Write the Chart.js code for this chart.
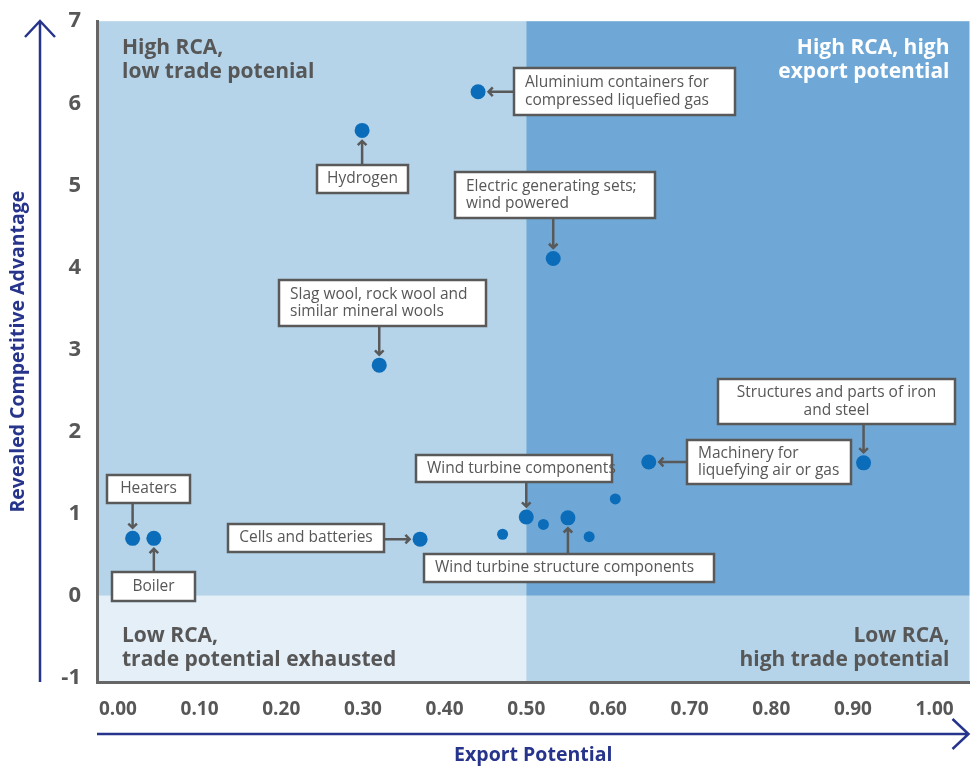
<!DOCTYPE html>
<html>
<head>
<meta charset="utf-8">
<script src="https://cdn.jsdelivr.net/npm/chart.js@4.4.1/dist/chart.umd.min.js"></script>
<style>
  html, body { margin: 0; padding: 0; background: #fff; }
</style>
</head>
<body>
<canvas id="rca-chart" width="977" height="767"></canvas>
<script>
// products (null = unlabelled product)
const products = [
  'Heaters',
  'Boiler',
  'Cells and batteries',
  'Hydrogen',
  'Slag wool, rock wool and\nsimilar mineral wools',
  'Aluminium containers for\ncompressed liquefied gas',
  'Electric generating sets;\nwind powered',
  'Wind turbine components',
  'Wind turbine structure components',
  'Machinery for\nliquefying air or gas',
  'Structures and parts of iron\nand steel',
  null, null, null, null
];
const exportPotential = [0.018, 0.044, 0.370, 0.299, 0.320, 0.441, 0.533, 0.500, 0.551, 0.650, 0.913, 0.471, 0.521, 0.577, 0.609];
const rca = [0.70, 0.70, 0.69, 5.67, 2.81, 6.14, 4.11, 0.96, 0.95, 1.63, 1.62, 0.75, 0.87, 0.72, 1.18];

const xTicks = [0, 0.1, 0.2, 0.3, 0.4, 0.5, 0.6, 0.7, 0.8, 0.9, 1.0];
const yTicks = [-1, 0, 1, 2, 3, 4, 5, 6, 7];

const quadrantLabels = {
  tl: ['High RCA,', 'low trade potenial'],
  tr: ['High RCA, high', 'export potential'],
  bl: ['Low RCA,', 'trade potential exhausted'],
  br: ['Low RCA,', 'high trade potential']
};

const FONT = '"Open Sans", sans-serif';
const GREY = '#575757';
const NAVY = '#27348b';

// call-out boxes: [left, top, width, height] in pixels, arrow direction, text align
const notes = {
  0: { box: [107, 475, 83, 28], dir: 'down', align: 'center' },
  1: { box: [112, 572, 83, 29], dir: 'up', align: 'center' },
  2: { box: [228, 524, 156, 28], dir: 'right', align: 'center' },
  3: { box: [317, 165, 91, 28], dir: 'up', align: 'center' },
  4: { box: [279, 280, 207, 46], dir: 'down', align: 'left' },
  5: { box: [514, 68, 221, 47], dir: 'left', align: 'left' },
  6: { box: [455, 172, 200, 46], dir: 'down', align: 'left' },
  7: { box: [416, 455, 196, 27], dir: 'down', align: 'left' },
  8: { box: [424, 554, 290, 28], dir: 'up', align: 'left' },
  9: { box: [687, 440, 164, 44], dir: 'left', align: 'left' },
  10: { box: [718, 379, 237, 45], dir: 'down', align: 'center' }
};

const radiusOf = (i) => products[i] ? 7.5 : 5.5;

function drawArrow(ctx, x1, y1, x2, y2) {
  const ang = Math.atan2(y2 - y1, x2 - x1);
  const h = 6;
  ctx.beginPath();
  ctx.moveTo(x1, y1);
  ctx.lineTo(x2, y2);
  ctx.moveTo(x2 - h * Math.cos(ang - 0.8), y2 - h * Math.sin(ang - 0.8));
  ctx.lineTo(x2, y2);
  ctx.lineTo(x2 - h * Math.cos(ang + 0.8), y2 - h * Math.sin(ang + 0.8));
  ctx.stroke();
}

const quadrants = {
  id: 'quadrants',
  beforeDraw(chart) {
    const { ctx, chartArea: a, scales: { x, y } } = chart;
    const mx = x.getPixelForValue(0.5);
    const my = y.getPixelForValue(0);
    ctx.save();
    ctx.fillStyle = '#b5d4e9';
    ctx.fillRect(a.left, a.top, mx - a.left, my - a.top);
    ctx.fillStyle = '#6fa8d6';
    ctx.fillRect(mx, a.top, a.right - mx, my - a.top);
    ctx.fillStyle = '#e4eff8';
    ctx.fillRect(a.left, my, mx - a.left, a.bottom - my);
    ctx.fillStyle = '#b5d4e9';
    ctx.fillRect(mx, my, a.right - mx, a.bottom - my);

    ctx.font = 'bold 21px ' + FONT;
    ctx.textBaseline = 'middle';
    ctx.fillStyle = GREY;
    ctx.textAlign = 'left';
    quadrantLabels.tl.forEach((t, k) => ctx.fillText(t, a.left + 25, a.top + 27 + k * 24));
    quadrantLabels.bl.forEach((t, k) => ctx.fillText(t, a.left + 25, my + 40 + k * 24));
    ctx.textAlign = 'right';
    quadrantLabels.br.forEach((t, k) => ctx.fillText(t, a.right - 20, my + 40 + k * 24));
    ctx.fillStyle = '#ffffff';
    quadrantLabels.tr.forEach((t, k) => ctx.fillText(t, a.right - 20, a.top + 27 + k * 24));
    ctx.restore();
  }
};

const callouts = {
  id: 'callouts',
  afterDatasetsDraw(chart) {
    const { ctx } = chart;
    const meta = chart.getDatasetMeta(0);
    ctx.save();
    ctx.lineWidth = 2.5;
    ctx.strokeStyle = '#595959';
    ctx.font = '15.5px ' + FONT;
    ctx.textBaseline = 'middle';
    Object.keys(notes).forEach((key) => {
      const i = +key;
      const n = notes[i];
      const pt = meta.data[i];
      const r = radiusOf(i) + 3;
      const [bx, by, bw, bh] = n.box;
      if (n.dir === 'down') drawArrow(ctx, pt.x, by + bh, pt.x, pt.y - r);
      if (n.dir === 'up') drawArrow(ctx, pt.x, by, pt.x, pt.y + r);
      if (n.dir === 'left') drawArrow(ctx, bx, pt.y, pt.x + r, pt.y);
      if (n.dir === 'right') drawArrow(ctx, bx + bw, pt.y, pt.x - r, pt.y);

      ctx.fillStyle = '#ffffff';
      ctx.fillRect(bx, by, bw, bh);
      ctx.strokeRect(bx, by, bw, bh);

      const lines = products[i].split('\n');
      const lh = 17.5;
      const y0 = by + bh / 2 - (lines.length - 1) * lh / 2;
      ctx.fillStyle = GREY;
      ctx.textAlign = n.align;
      const tx = n.align === 'center' ? bx + bw / 2 : bx + 11;
      lines.forEach((t, k) => ctx.fillText(t, tx, y0 + k * lh));
    });
    ctx.restore();
  }
};

const axisArrows = {
  id: 'axisArrows',
  afterDraw(chart) {
    const { ctx, chartArea: a } = chart;
    ctx.save();
    ctx.strokeStyle = NAVY;
    ctx.fillStyle = NAVY;
    ctx.lineWidth = 2.5;
    // vertical
    ctx.beginPath();
    ctx.moveTo(40, a.bottom);
    ctx.lineTo(40, 21);
    ctx.moveTo(25, 37);
    ctx.lineTo(40, 21);
    ctx.lineTo(55, 37);
    ctx.stroke();
    // horizontal
    ctx.beginPath();
    ctx.moveTo(a.left, 734);
    ctx.lineTo(a.right - 1, 734);
    ctx.moveTo(a.right - 17, 719);
    ctx.lineTo(a.right - 1, 734);
    ctx.lineTo(a.right - 17, 749);
    ctx.stroke();

    ctx.font = 'bold 19.5px ' + FONT;
    ctx.textAlign = 'center';
    ctx.textBaseline = 'middle';
    ctx.fillText('Export Potential', (a.left + a.right) / 2, 755);
    ctx.translate(18, (a.top + a.bottom) / 2);
    ctx.rotate(-Math.PI / 2);
    ctx.fillText('Revealed Competitive Advantage', 0, 0);
    ctx.restore();
  }
};

new Chart(document.getElementById('rca-chart'), {
  type: 'scatter',
  data: {
    datasets: [{
      label: 'Products',
      data: exportPotential.map((v, i) => ({ x: v, y: rca[i] })),
      backgroundColor: '#0b6dba',
      borderWidth: 0,
      pointRadius: (c) => radiusOf(c.dataIndex),
      pointHoverRadius: (c) => radiusOf(c.dataIndex)
    }]
  },
  options: {
    responsive: false,
    animation: false,
    layout: { padding: { top: 19, right: 0, left: 0, bottom: 0 } },
    plugins: {
      legend: { display: false },
      tooltip: { enabled: false }
    },
    scales: {
      x: {
        type: 'linear',
        min: -0.0256,
        max: 1.0427,
        afterBuildTicks: (s) => { s.ticks = xTicks.map((v) => ({ value: v })); },
        afterFit: (s) => { s.height = 85; s.paddingRight = 0; s.paddingLeft = 0; },
        grid: { display: false },
        border: { color: '#666666', width: 3 },
        ticks: {
          padding: 8,
          color: GREY,
          font: { family: FONT, size: 19, weight: 'bold' },
          callback: (v) => v.toFixed(2)
        }
      },
      y: {
        type: 'linear',
        min: -1.05,
        max: 7,
        afterBuildTicks: (s) => { s.ticks = yTicks.map((v) => ({ value: v })); },
        afterFit: (s) => { s.width = 97; },
        grid: { display: false },
        border: { color: '#666666', width: 3 },
        ticks: {
          padding: 8,
          color: GREY,
          font: { family: FONT, size: 22, weight: 'bold' },
          callback: (v) => v
        }
      }
    }
  },
  plugins: [quadrants, callouts, axisArrows]
});
</script>
</body>
</html>
